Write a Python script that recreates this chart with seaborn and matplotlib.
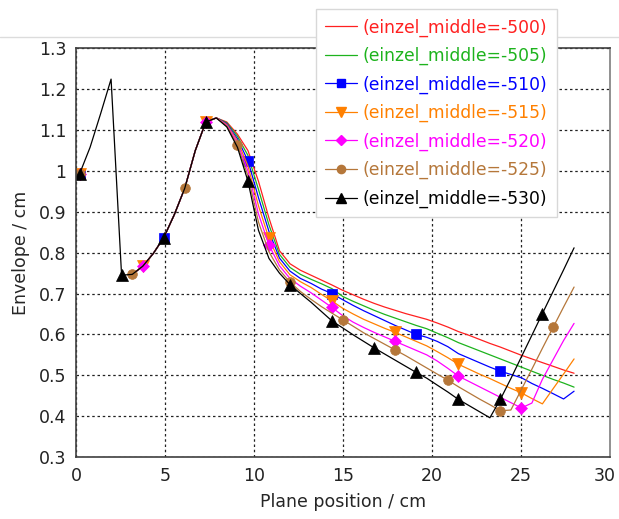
import numpy as np
import pandas as pd
import matplotlib
matplotlib.use('Agg')
import matplotlib.pyplot as plt
import matplotlib.transforms as mtransforms
import seaborn as sns
from matplotlib.lines import Line2D

# plane positions (cm)
positions = [0.20, 0.79, 1.38, 1.97, 2.56, 3.16, 3.75, 4.34, 4.93, 5.52,
             6.11, 6.70, 7.29, 7.88, 8.47, 9.07, 9.66, 10.25, 10.84, 11.43,
             12.02, 12.61, 13.20, 13.79, 14.38, 14.98, 15.57, 16.16, 16.75, 17.34,
             17.93, 18.52, 19.11, 19.70, 20.29, 20.89, 21.48, 22.07, 22.66, 23.25,
             23.84, 24.43, 25.02, 25.61, 26.20, 26.80, 27.39, 27.98]

N = None
env_500 = [0.993, N, N, N, N, 0.747, 0.767, 0.798, 0.837, 0.893,
           0.958, 1.05, 1.12, 1.13, 1.12, 1.09, 1.05, 0.975, 0.885, 0.805,
           0.773, 0.757, 0.745, 0.733, 0.721, 0.708, 0.697, 0.686, 0.676, 0.667,
           0.659, 0.651, 0.644, 0.637, 0.628, 0.618, 0.607, 0.598, 0.588, 0.578,
           0.569, 0.559, 0.549, 0.54, 0.531, 0.522, 0.513, 0.505]
env_505 = [0.993, N, N, N, N, 0.747, 0.767, 0.798, 0.837, 0.893,
           0.958, 1.05, 1.12, 1.13, 1.118, 1.085, 1.038, 0.955, 0.868, 0.796,
           0.764, 0.747, 0.735, 0.724, 0.712, 0.693, 0.681, 0.67, 0.659, 0.649,
           0.64, 0.631, 0.622, 0.614, 0.603, 0.592, 0.58, 0.57, 0.56, 0.55,
           0.54, 0.53, 0.52, 0.51, 0.5, 0.49, 0.481, 0.471]
env_510 = [0.993, N, N, N, N, 0.747, 0.767, 0.798, 0.837, 0.893,
           0.958, 1.05, 1.12, 1.13, 1.116, 1.079, 1.025, 0.935, 0.852, 0.787,
           0.755, 0.737, 0.725, 0.711, 0.70, 0.685, 0.671, 0.658, 0.646, 0.634,
           0.622, 0.611, 0.60, 0.593, 0.583, 0.57, 0.553, 0.542, 0.531, 0.52,
           0.51, 0.502, 0.494, 0.48, 0.468, 0.455, 0.442, 0.461]
env_515 = [0.993, N, N, N, N, 0.747, 0.767, 0.798, 0.837, 0.893,
           0.958, 1.05, 1.12, 1.13, 1.114, 1.074, 1.012, 0.915, 0.835, 0.778,
           0.746, 0.729, 0.715, 0.698, 0.682, 0.664, 0.65, 0.637, 0.626, 0.615,
           0.605, 0.594, 0.583, 0.572, 0.558, 0.543, 0.527, 0.515, 0.503, 0.492,
           0.48, 0.468, 0.457, 0.443, 0.43, 0.467, 0.503, 0.54]
env_520 = [0.993, N, N, N, N, 0.747, 0.767, 0.798, 0.837, 0.893,
           0.958, 1.05, 1.12, 1.13, 1.112, 1.069, 1.0, 0.895, 0.819, 0.768,
           0.737, 0.718, 0.702, 0.684, 0.666, 0.646, 0.63, 0.617, 0.605, 0.594,
           0.583, 0.572, 0.561, 0.55, 0.535, 0.517, 0.498, 0.485, 0.472, 0.459,
           0.446, 0.433, 0.42, 0.432, 0.49, 0.538, 0.585, 0.627]
env_525 = [0.993, N, N, N, N, 0.747, 0.767, 0.798, 0.837, 0.893,
           0.958, 1.05, 1.12, 1.13, 1.11, 1.063, 0.988, 0.875, 0.802, 0.758,
           0.728, 0.705, 0.686, 0.668, 0.652, 0.636, 0.62, 0.604, 0.59, 0.576,
           0.562, 0.548, 0.533, 0.518, 0.503, 0.488, 0.472, 0.457, 0.442, 0.428,
           0.413, 0.415, 0.465, 0.515, 0.566, 0.617, 0.667, 0.716]
env_530 = [0.993, 1.058, 1.14, 1.225, 0.745, 0.747, 0.767, 0.798, 0.837, 0.893,
           0.958, 1.05, 1.12, 1.13, 1.108, 1.058, 0.975, 0.855, 0.786, 0.75,
           0.722, 0.70, 0.679, 0.656, 0.633, 0.616, 0.599, 0.583, 0.567, 0.552,
           0.537, 0.522, 0.507, 0.493, 0.476, 0.459, 0.441, 0.426, 0.411, 0.396,
           0.441, 0.492, 0.545, 0.598, 0.651, 0.705, 0.758, 0.812]

series_names = ['(einzel_middle=-500)', '(einzel_middle=-505)', '(einzel_middle=-510)',
                '(einzel_middle=-515)', '(einzel_middle=-520)', '(einzel_middle=-525)',
                '(einzel_middle=-530)']
series_values = [env_500, env_505, env_510, env_515, env_520, env_525, env_530]
colors = ['#ff2020', '#1db31d', '#0000ff', '#ff8000', '#ff00ff', '#b5773a', '#000000']
markers = [None, None, 's', 'v', 'D', 'o', '^']
marker_sizes = [0, 0, 7, 8, 6, 7, 8]
mark_step = [1, 1, 8, 6, 6, 5, 4]

yticks = [0.3, 0.4, 0.5, 0.6, 0.7, 0.8, 0.9, 1.0, 1.1, 1.2, 1.3]
ytick_labels = ['0.3', '0.4', '0.5', '0.6', '0.7', '0.8', '0.9', '1', '1.1', '1.2', '1.3']
xticks = [0, 5, 10, 15, 20, 25, 30]

# long table
rows = []
for name, vals in zip(series_names, series_values):
    for i, (p, v) in enumerate(zip(positions, vals)):
        rows.append({'idx': i, 'position': p,
                     'envelope': np.nan if v is None else v, 'series': name})
df = pd.DataFrame(rows)

sns.set_style('white')
plt.rcParams['font.family'] = ['DejaVu Sans']

fig = plt.figure(figsize=(6.19, 5.19), dpi=100)
ax = fig.add_axes([0.1228, 0.1195, 0.8627, 0.7871])

for name, col, mk, ms, step in zip(series_names, colors, markers, marker_sizes, mark_step):
    sub = df[df['series'] == name].reset_index(drop=True)
    valid = sub['envelope'].notna()
    # split into contiguous runs so gaps stay gaps
    run_id = (valid != valid.shift()).cumsum()
    for _, run in sub[valid].groupby(run_id[valid]):
        start = int(run['idx'].iloc[0])
        kws = dict(color=col, linewidth=0.9, estimator=None, sort=False, legend=False, ax=ax)
        if mk is not None:
            kws.update(marker=mk, markersize=ms, markevery=((-start) % step, step),
                       markeredgecolor=col, markeredgewidth=0.5)
        sns.lineplot(data=run, x='position', y='envelope', **kws)

ax.set_xlim(0, 30)
ax.set_ylim(0.3, 1.3)
ax.set_xticks(xticks)
ax.set_xticklabels([str(t) for t in xticks])
ax.set_yticks(yticks)
ax.set_yticklabels(ytick_labels)
ax.tick_params(axis='both', labelsize=12.5, length=4, width=1, color='#404040',
               direction='out', colors='#222222', pad=3)
ax.grid(True, color='#222222', linestyle=(0, (2, 2.2)), linewidth=0.9)
ax.set_xlabel('Plane position / cm', fontsize=12.5, labelpad=6)
ax.set_ylabel('Envelope / cm', fontsize=12.5, labelpad=6)

# last x label sits at the figure edge, nudge it in a little
last = ax.get_xticklabels()[-1]
last.set_transform(last.get_transform() +
                   mtransforms.ScaledTranslation(-5 / 100, 0, fig.dpi_scale_trans))

for side in ['left', 'bottom', 'top']:
    ax.spines[side].set_color('#404040')
    ax.spines[side].set_linewidth(1.2)
ax.spines['right'].set_color('#909090')
ax.spines['right'].set_linewidth(1.4)

# light frame line across the top
fig.add_artist(Line2D([0, 1], [1 - 37 / 519, 1 - 37 / 519], transform=fig.transFigure,
                      color='#dcdcdc', linewidth=1))

handles = [Line2D([], [], color=c, marker=m if m else None, markersize=ms * 0.85,
                  markeredgecolor=c, linewidth=0.9)
           for c, m, ms in zip(colors, markers, marker_sizes)]
leg = fig.legend(handles, series_names, loc='upper left',
                 bbox_to_anchor=(316 / 619, 1 - 9 / 519), fontsize=12.3,
                 frameon=True, fancybox=False, edgecolor='#d8d8d8', framealpha=1,
                 handlelength=1.85, handletextpad=0.35, labelspacing=0.6,
                 borderpad=0.55, borderaxespad=0, labelcolor='linecolor')
leg.get_frame().set_linewidth(1)

fig.savefig('out.png', dpi=100, facecolor='white')
